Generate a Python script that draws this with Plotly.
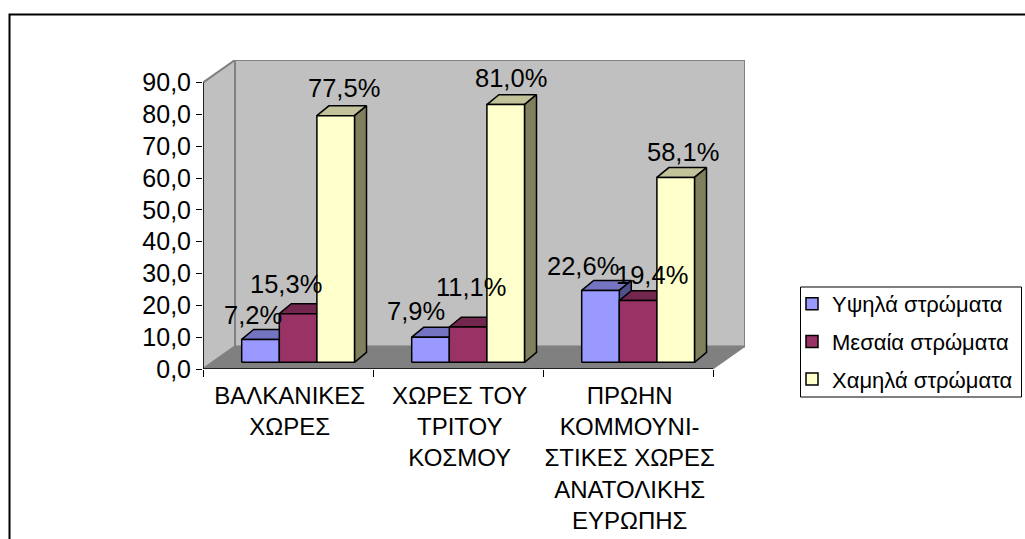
import plotly.graph_objects as go

categories = ['ΒΑΛΚΑΝΙΚΕΣ<br>ΧΩΡΕΣ', 'ΧΩΡΕΣ ΤΟΥ<br>ΤΡΙΤΟΥ<br>ΚΟΣΜΟΥ',
              'ΠΡΩΗΝ<br>ΚΟΜΜΟΥΝΙ-<br>ΣΤΙΚΕΣ ΧΩΡΕΣ<br>ΑΝΑΤΟΛΙΚΗΣ<br>ΕΥΡΩΠΗΣ']
high = [7.2, 7.9, 22.6]
middle = [15.3, 11.1, 19.4]
low = [77.5, 81.0, 58.1]
y_ticks = [0, 10, 20, 30, 40, 50, 60, 70, 80, 90]
y_labels = ['0,0', '10,0', '20,0', '30,0', '40,0', '50,0', '60,0', '70,0', '80,0', '90,0']

series = [
    ('Υψηλά στρώματα', high, '#9999FF', '#7474C2', '#50508A'),
    ('Μεσαία στρώματα', middle, '#993366', '#74274E', '#50203A'),
    ('Χαμηλά στρώματα', low, '#FFFFCC', '#C2C29B', '#80805F'),
]

# manual label nudges from Excel, pixels from the bar's front top centre
label_shift = {
    'Υψηλά στρώματα': [(-7, 24), (-14, 26), (-17, 24)],
    'Μεσαία στρώματα': [(-12, 30), (3, 40), (14, 26)],
    'Χαμηλά στρώματα': [(8, 28), (5, 27), (7, 25)],
}

# fake 3D: depth of the box and of a bar, in axis units
DEPTH_X = 32 / 170
DEPTH_Y = 7.1
BAR_W = 0.2212
BAR_START = 0.2276
BAR_DX = 12 / 170
BAR_DY = 3.1
BASE = 2.1

FONT = 'Liberation Sans'
FIG_W = 1025
FIG_H = 539


def px_x(x):
    return x / FIG_W


def px_y(y):
    return 1 - y / FIG_H


fig = go.Figure()


def add_face(xs, ys, fill, line='black', width=1.5):
    fig.add_trace(go.Scatter(x=xs, y=ys, mode='lines', fill='toself', fillcolor=fill,
                             line=dict(color=line, width=width), showlegend=False,
                             hoverinfo='skip'))


# walls and floor
add_face([0, 0, DEPTH_X, DEPTH_X, 0], [0, 90, 90 + DEPTH_Y, DEPTH_Y, 0], '#C0C0C0', '#808080', 2)
add_face([DEPTH_X, DEPTH_X, 3 + DEPTH_X, 3 + DEPTH_X, DEPTH_X],
         [DEPTH_Y, 90 + DEPTH_Y, 90 + DEPTH_Y, DEPTH_Y, DEPTH_Y], '#C0C0C0', '#808080', 2)
add_face([0, 3, 3 + DEPTH_X, DEPTH_X, 0], [0, 0, DEPTH_Y, DEPTH_Y, 0], '#808080', '#808080', 1)

# bars, left to right so each one covers the side of the previous one
annotations = []
for c in range(len(categories)):
    for s, (name, values, front, top_col, side_col) in enumerate(series):
        x0 = c + BAR_START + s * BAR_W
        x1 = x0 + BAR_W
        y0 = BASE
        y1 = BASE + values[c]
        add_face([x0, x1, x1 + BAR_DX, x0 + BAR_DX, x0],
                 [y1, y1, y1 + BAR_DY, y1 + BAR_DY, y1], top_col)
        add_face([x1, x1 + BAR_DX, x1 + BAR_DX, x1, x1],
                 [y0, y0 + BAR_DY, y1 + BAR_DY, y1, y0], side_col)
        add_face([x0, x1, x1, x0, x0], [y0, y0, y1, y1, y0], front)
        dx, dy = label_shift[name][c]
        annotations.append(dict(x=(x0 + x1) / 2, y=y1, xref='x', yref='y',
                                text=f'{values[c]:.1f}%'.replace('.', ','), showarrow=False,
                                xshift=dx, yshift=dy, font=dict(family=FONT, size=25.5, color='black')))

# axis lines stop at the front of the box
fig.add_trace(go.Scatter(x=[0, 0, 3], y=[90, 0, 0], mode='lines', showlegend=False,
                         line=dict(color='black', width=1.5), hoverinfo='skip'))

# empty bars only carry the legend swatches
for name, values, front, top_col, side_col in series:
    fig.add_trace(go.Bar(x=[None], y=[None], name=name, legendgroup=name,
                         marker=dict(color=front, line=dict(color='black', width=1.5))))

fig.update_xaxes(
    domain=[px_x(203), px_x(745)],
    range=[0, 3 + DEPTH_X],
    tickmode='array',
    tickvals=[0.51, 1.51, 2.51],
    ticktext=categories,
    ticklen=0,
    ticklabelstandoff=10,
    tickfont=dict(family=FONT, size=24, color='black'),
    showgrid=False,
    zeroline=False,
    showline=False,
    minor=dict(tickmode='array', tickvals=[0, 1, 2, 3], ticks='outside', ticklen=7,
               tickcolor='black', tickwidth=1, showgrid=False),
)

fig.update_yaxes(
    domain=[px_y(369), px_y(60)],
    range=[0, 90 + DEPTH_Y],
    tickmode='array',
    tickvals=y_ticks,
    ticktext=y_labels,
    ticks='outside',
    ticklen=6,
    tickwidth=1,
    tickcolor='black',
    tickfont=dict(family=FONT, size=25, color='black'),
    showgrid=False,
    zeroline=False,
    showline=False,
)

fig.update_layout(
    width=FIG_W,
    height=FIG_H,
    margin=dict(l=0, r=0, t=0, b=0, autoexpand=False),
    plot_bgcolor='white',
    paper_bgcolor='white',
    annotations=annotations,
    shapes=[
        # outer frame runs off the right and bottom of the picture
        dict(type='rect', xref='paper', yref='paper', x0=px_x(9.5), x1=1.1,
             y0=-0.1, y1=px_y(14.5), line=dict(color='black', width=2), layer='below'),
        dict(type='rect', xref='paper', yref='paper', x0=px_x(800.5), x1=px_x(1021.5),
             y0=px_y(397), y1=px_y(287), line=dict(color='black', width=1),
             fillcolor='white', layer='below'),
    ],
    legend=dict(
        x=px_x(792),
        y=px_y(283),
        xanchor='left',
        yanchor='top',
        bgcolor='rgba(0,0,0,0)',
        borderwidth=0,
        font=dict(family=FONT, size=22, color='black'),
        tracegroupgap=6,
    ),
)

# default page margin would push the figure off the window
fig.write_html("out.html", config=dict(displayModeBar=False),
               post_script="document.body.style.margin = '0';")
